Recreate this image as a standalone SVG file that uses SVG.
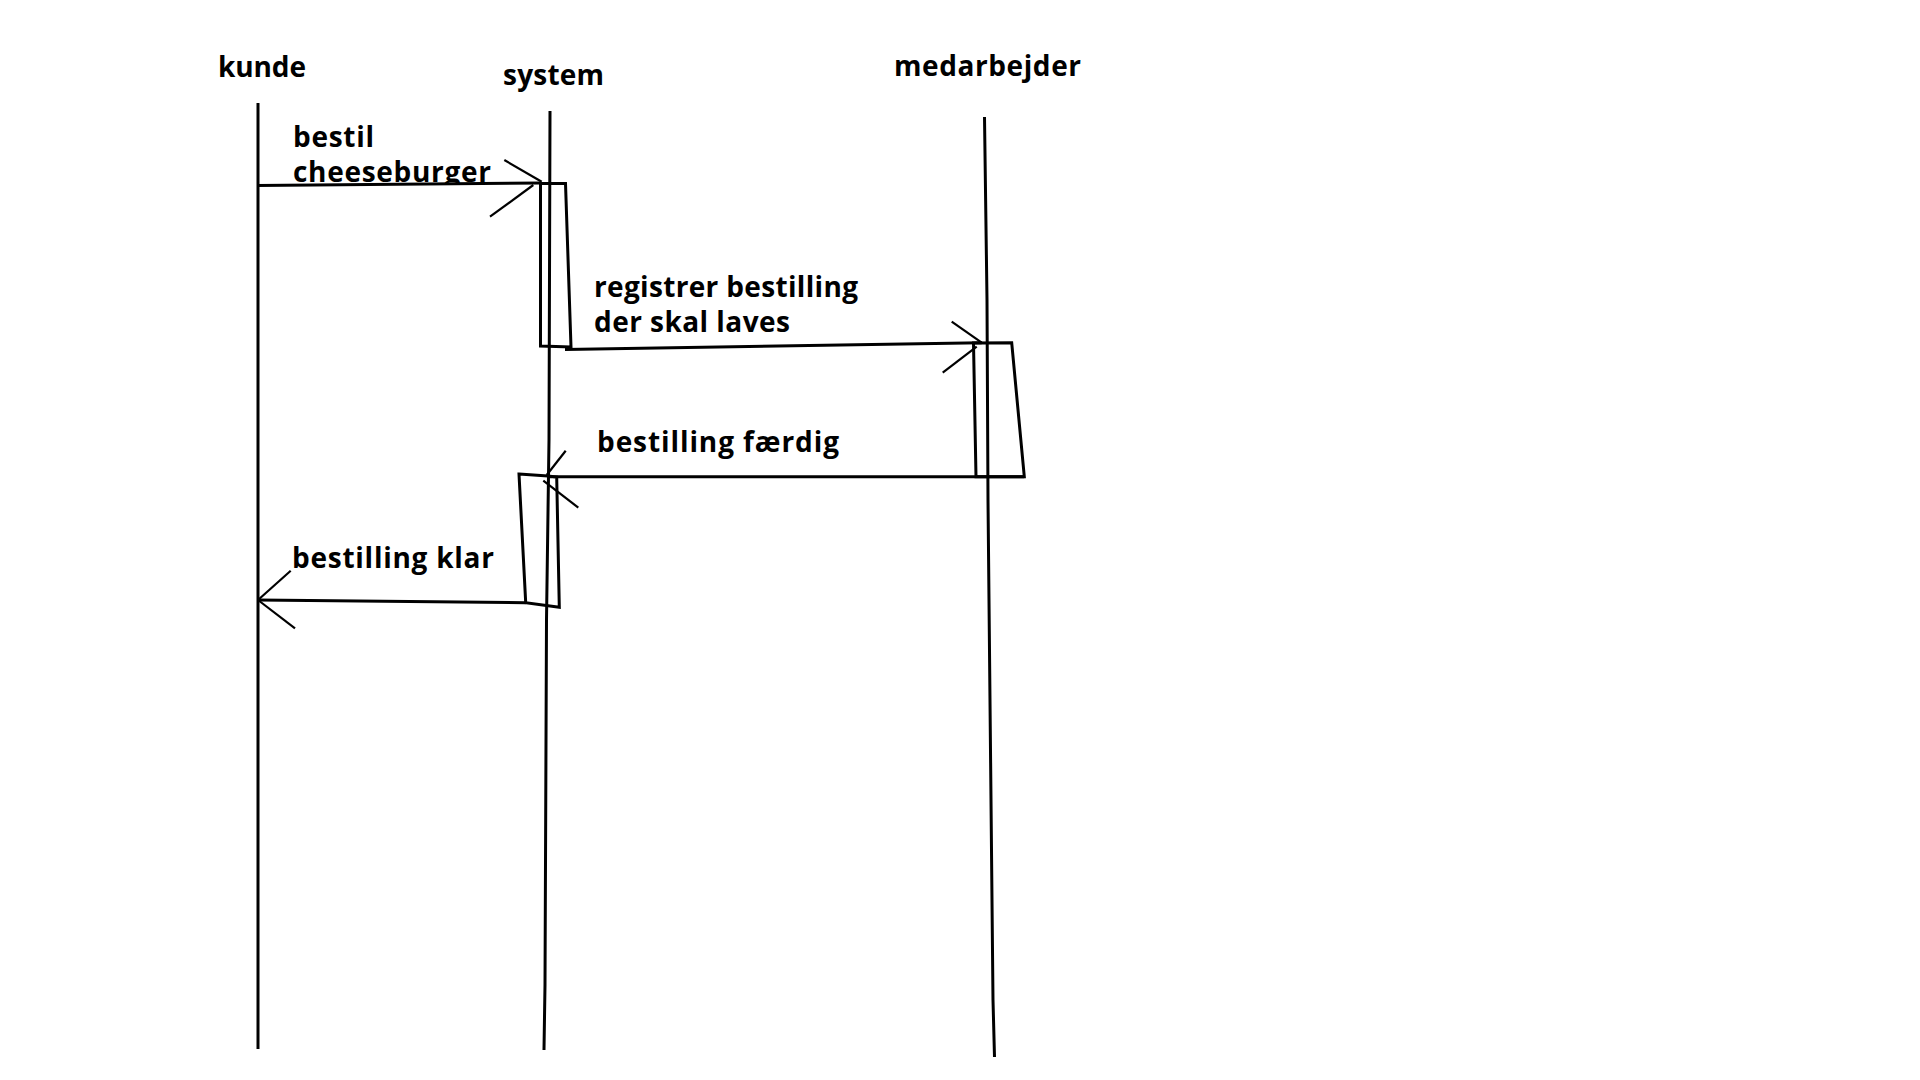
<svg xmlns="http://www.w3.org/2000/svg" width="1920" height="1080" viewBox="0 0 1920 1080">
<defs>
<style>
.lbl{font-family:"Open Sans","Noto Sans","DejaVu Sans",sans-serif;font-weight:700;font-size:28px;fill:#000}
.ln{fill:none;stroke:#000;stroke-width:3;stroke-linejoin:miter}
.barb{fill:none;stroke:#000;stroke-width:2.2}
</style>
<clipPath id="cutText"><rect x="280" y="150" width="230" height="33"/></clipPath>
</defs>
<rect width="1920" height="1080" fill="#fff"/>
<g id="kunde">
<text class="lbl" x="218" y="77" textLength="88">kunde</text>
<polyline class="ln" points="258,103 258,1049"/>
</g>
<g id="system">
<text class="lbl" x="503" y="85" textLength="101">system</text>
<polyline class="ln" points="550,111 549,440 546.5,620 545,985 544,1050"/>
</g>
<g id="medarbejder">
<text class="lbl" x="894" y="76" textLength="187">medarbejder</text>
<polyline class="ln" points="984.5,117 987,300 988,500 993,1000 994.5,1057"/>
</g>
<g id="activation-system-1">
<polygon class="ln" points="540.5,183.5 565.5,183.5 571,347 540.5,346"/>
</g>
<g id="activation-medarbejder">
<polygon class="ln" points="973.5,343 1011.7,342.7 1024.3,476.7 976,476.7"/>
</g>
<g id="activation-system-2">
<polygon class="ln" points="519,474 548,476 556.7,477 559.3,607.3 525.7,602.7"/>
</g>
<g id="connectors">
<polyline class="ln" points="257,185.5 541,183"/>
<polyline class="barb" points="504.3,160 541.7,181.7"/>
<polyline class="barb" points="490,216.7 533.3,185"/>
<polyline class="ln" points="565,349.5 981.7,342.7"/>
<polyline class="barb" points="951.7,321.7 981.7,342.7"/>
<polyline class="barb" points="942.7,372.7 976.7,346.7"/>
<polyline class="ln" points="1024.3,476.7 550,476.7 546.7,475"/>
<polyline class="barb" points="565.7,450.7 546.7,475"/>
<polyline class="barb" points="543.3,480.7 578.3,507.7"/>
<polyline class="ln" points="525.7,602.7 258,600"/>
<polyline class="barb" points="290.7,570.7 258,600"/>
<polyline class="barb" points="258,600 295,628.3"/>
</g>
<g id="labels">
<text class="lbl" x="293" y="147" textLength="81">bestil</text>
<text class="lbl" x="293" y="182" textLength="198" clip-path="url(#cutText)">cheeseburger</text>
<text class="lbl" x="594" y="297" textLength="264">registrer bestilling</text>
<text class="lbl" x="594" y="332" textLength="196">der skal laves</text>
<text class="lbl" x="597" y="452" textLength="242">bestilling færdig</text>
<text class="lbl" x="292" y="568" textLength="202">bestilling klar</text>
</g>
</svg>
